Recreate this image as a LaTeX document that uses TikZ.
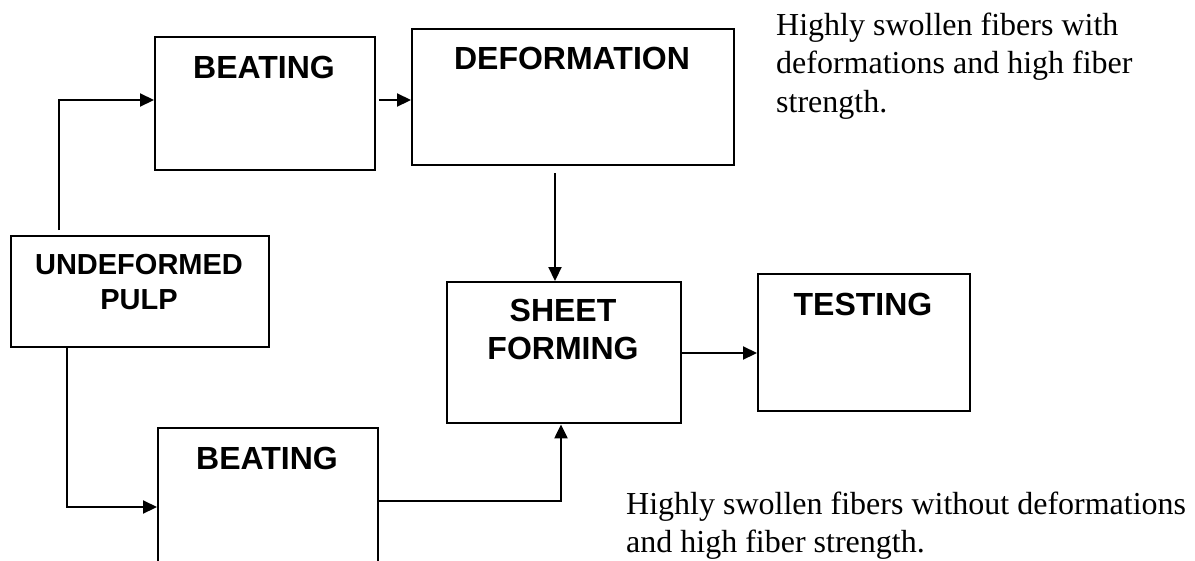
\documentclass[tikz,border=0pt]{standalone}
\usepackage{fontspec}
\setmainfont{Liberation Serif}
\newfontfamily\boxfont{Liberation Sans}
\usetikzlibrary{arrows.meta}
\tikzset{
  box/.style={draw=black, line width=2.4pt, fill=none, inner sep=0pt},
  lbl/.style={font=\boxfont\bfseries\fontsize{32}{35}\selectfont, anchor=base, inner sep=0pt},
  smalllbl/.style={lbl, font=\boxfont\bfseries\fontsize{29}{33}\selectfont},
  note/.style={font=\fontsize{32}{38.5}\selectfont, anchor=base west, inner sep=0pt},
  conn/.style={line width=2.2pt, -{Triangle[length=14pt,width=13pt]}},
}
\begin{document}
\begin{tikzpicture}[x=1pt,y=-1pt]
\useasboundingbox (0,0) rectangle (1195,560);
\clip (0,0) rectangle (1195,560);
% boxes
\node[box, minimum width=220pt, minimum height=133pt, anchor=north west] (beat1) at (154,36) {};
\node[box, minimum width=322pt, minimum height=136pt, anchor=north west] (deform) at (411,28) {};
\node[box, minimum width=258pt, minimum height=111pt, anchor=north west] (undef) at (10,235) {};
\node[box, minimum width=234pt, minimum height=141pt, anchor=north west] (sheet) at (446,281) {};
\node[box, minimum width=212pt, minimum height=137pt, anchor=north west] (test) at (757,273) {};
\node[box, minimum width=220pt, minimum height=134pt, anchor=north west] (beat2) at (157,427) {};
% labels
\node[lbl] (l1) at (264,78) {BEATING};
\node[lbl] (l2) at (572,69) {DEFORMATION};
\node[smalllbl] (l3) at (139,274) {UNDEFORMED};
\node[smalllbl] (l4) at (139,309) {PULP};
\node[lbl] (l5) at (563,321) {SHEET};
\node[lbl] (l6) at (563,359) {FORMING};
\node[lbl] (l7) at (863,315) {TESTING};
\node[lbl] (l8) at (267,469) {BEATING};
% notes
\node[note] (n1) at (776,35) {Highly swollen fibers with};
\node[note] (n2) at (776,73.5) {deformations and high fiber};
\node[note] (n3) at (776,112) {strength.};
\node[note] (n4) at (626,514) {Highly swollen fibers without deformations};
\node[note] (n5) at (626,552) {and high fiber strength.};
% connectors
\coordinate (c1) at (59,100);
\draw[conn] (undef.north -| c1) ++(0,-5) -- (c1) -- (c1 -| beat1.west);
\draw[conn] (379,100) coordinate (c2) -- (c2 -| deform.west);
\coordinate (c3) at (555,173);
\draw[conn] (c3) -- (c3 |- sheet.north);
\coordinate (c4) at (67,507);
\draw[conn] (undef.south -| c4) -- (c4) -- (c4 -| beat2.west);
\coordinate (c5) at (561,501);
\draw[conn] (c5 -| beat2.east) -- (c5) -- (c5 |- sheet.south);
\coordinate (c6) at (680,353);
\draw[conn] (c6 -| sheet.east) -- (c6 -| test.west);
\end{tikzpicture}
\end{document}
